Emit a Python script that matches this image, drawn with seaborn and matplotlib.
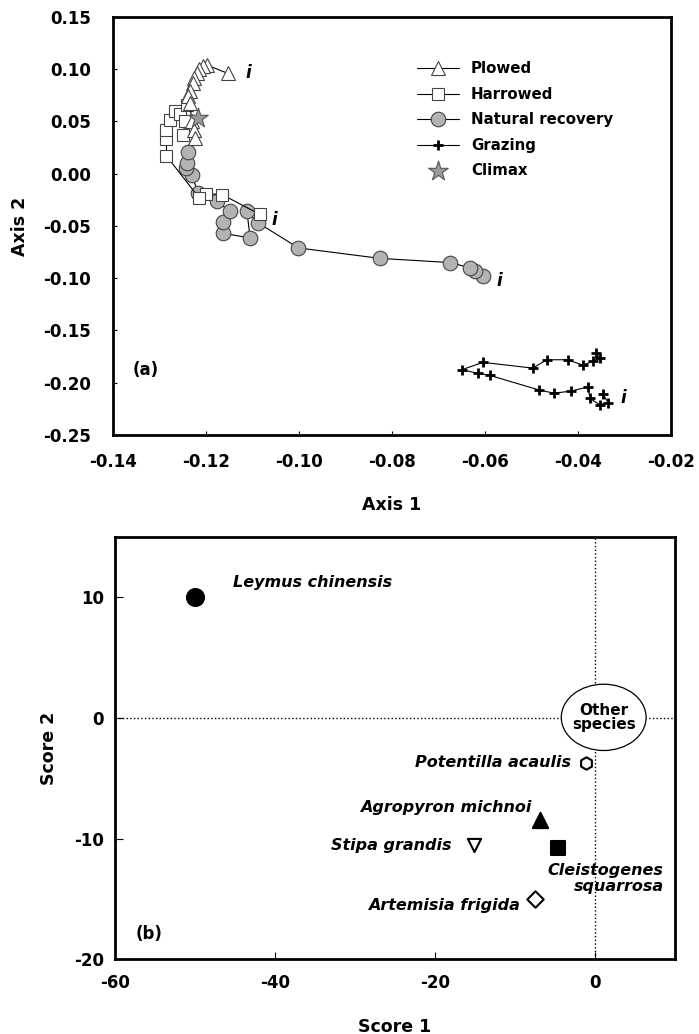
import matplotlib
matplotlib.use("Agg")
import matplotlib.pyplot as plt
import seaborn as sns
from matplotlib.patches import Ellipse

# ---- panel (a) trajectories, each starting at the "i" point ----
plowed_x = [-0.1153, -0.1198, -0.1207, -0.1215, -0.1220, -0.1225, -0.1229,
            -0.1234, -0.1238, -0.1234, -0.1231, -0.1225, -0.1224]
plowed_y = [0.096, 0.104, 0.103, 0.100, 0.096, 0.092, 0.087,
            0.079, 0.074, 0.068, 0.050, 0.042, 0.034]

harrowed_x = [-0.1084, -0.1165, -0.1200, -0.1215, -0.1285, -0.1285, -0.1285,
              -0.1277, -0.1267, -0.1256, -0.1240, -0.1245, -0.1249]
harrowed_y = [-0.039, -0.020, -0.019, -0.023, 0.017, 0.033, 0.042,
              0.051, 0.060, 0.057, 0.066, 0.050, 0.037]

natural_x = [-0.0604, -0.0621, -0.0632, -0.0675, -0.0826, -0.1001, -0.1088,
             -0.1112, -0.1105, -0.1163, -0.1163, -0.1148, -0.1177, -0.1217,
             -0.1231, -0.1243, -0.1240, -0.1238]
natural_y = [-0.098, -0.0935, -0.090, -0.085, -0.081, -0.071, -0.047,
             -0.036, -0.0615, -0.057, -0.046, -0.036, -0.0265, -0.018,
             -0.001, 0.005, 0.010, 0.021]

grazing_x = [-0.0346, -0.0335, -0.0353, -0.0374, -0.0378, -0.0415, -0.0451,
             -0.0483, -0.0589, -0.0614, -0.0650, -0.0604, -0.0497, -0.0467,
             -0.0422, -0.0390, -0.0367, -0.0353, -0.0361]
grazing_y = [-0.211, -0.219, -0.221, -0.215, -0.204, -0.208, -0.210,
             -0.207, -0.193, -0.191, -0.1876, -0.1805, -0.186, -0.178,
             -0.178, -0.183, -0.1796, -0.176, -0.172]

climax_x = [-0.1217]
climax_y = [0.053]

# ---- panel (b) species scores ----
species = ["Leymus chinensis", "Potentilla acaulis", "Agropyron michnoi",
           "Stipa grandis", "Cleistogenes\nsquarrosa", "Artemisia frigida"]
score1 = [-50, -1.1, -6.9, -15.1, -4.6, -7.5]
score2 = [10, -3.7, -8.5, -10.5, -10.8, -15.0]

sns.set_style("ticks")
plt.rcParams["font.family"] = ["DejaVu Sans"]
plt.rcParams["font.weight"] = "bold"
plt.rcParams["axes.unicode_minus"] = False
for k in ["text.color", "axes.labelcolor", "xtick.color", "ytick.color", "axes.edgecolor"]:
    plt.rcParams[k] = "black"

fig = plt.figure(figsize=(6.99, 10.34), dpi=100)
ax1 = fig.add_axes([0.1617, 0.5793, 0.798, 0.4043])
ax2 = fig.add_axes([0.1645, 0.0725, 0.801, 0.408])

line_kw = dict(sort=False, estimator=None, ax=ax1, color="black", lw=0.8)
sns.lineplot(x=grazing_x, y=grazing_y, marker="+", markersize=7,
             markeredgecolor="black", markeredgewidth=2, label="Grazing", **line_kw)
sns.lineplot(x=natural_x, y=natural_y, marker="o", markersize=10.5,
             markerfacecolor="#b3b3b3", markeredgecolor="#444444",
             markeredgewidth=0.8, label="Natural recovery", **line_kw)
sns.lineplot(x=harrowed_x, y=harrowed_y, marker="s", markersize=8.5,
             markerfacecolor="white", markeredgecolor="#444444",
             markeredgewidth=0.8, label="Harrowed", **line_kw)
sns.lineplot(x=plowed_x, y=plowed_y, marker="^", markersize=10,
             markerfacecolor="white", markeredgecolor="#444444",
             markeredgewidth=0.8, label="Plowed", **line_kw)
sns.scatterplot(x=climax_x, y=climax_y, marker="*", s=220, color="#9a9a9a",
                edgecolor="#555555", linewidth=0.8, ax=ax1, label="Climax", zorder=5)

# "i" marks the initial point of each trajectory
for tx, ty in [(-0.1116, 0.096), (-0.1059, -0.044), (-0.0575, -0.103), (-0.0308, -0.2147)]:
    ax1.text(tx, ty, "i", fontsize=12, fontstyle="italic", fontweight="bold", va="center")

ax1.text(-0.1357, -0.1876, "(a)", fontsize=12, fontweight="bold", va="center")

ax1.set_xlim(-0.14, -0.02)
ax1.set_ylim(-0.25, 0.15)
ax1.set_xticks([-0.14, -0.12, -0.10, -0.08, -0.06, -0.04, -0.02])
ax1.set_yticks([-0.25, -0.20, -0.15, -0.10, -0.05, 0.00, 0.05, 0.10, 0.15])
ax1.set_xticklabels(["-0.14", "-0.12", "-0.10", "-0.08", "-0.06", "-0.04", "-0.02"])
ax1.set_yticklabels(["-0.25", "-0.20", "-0.15", "-0.10", "-0.05", "0.00", "0.05", "0.10", "0.15"])
ax1.tick_params(axis="x", direction="in", length=3, width=0.8, pad=13, labelsize=12)
ax1.tick_params(axis="y", direction="in", length=3, width=0.8, pad=16, labelsize=12)
ax1.set_xlabel("Axis 1", fontsize=12.5, fontweight="bold", va="center")
ax1.set_ylabel("Axis 2", fontsize=12.5, fontweight="bold", va="center")
ax1.xaxis.set_label_coords(0.5, -0.167)
ax1.yaxis.set_label_coords(-0.167, 0.5)

h, l = ax1.get_legend_handles_labels()
order = ["Plowed", "Harrowed", "Natural recovery", "Grazing", "Climax"]
hd = dict(zip(l, h))
ax1.legend([hd[k] for k in order], order, loc="upper left", bbox_to_anchor=(0.545, 0.894),
           frameon=False, fontsize=10.8, handlelength=2.8, handletextpad=0.8,
           labelspacing=0.7, borderpad=0, borderaxespad=0)

# ---- panel (b) ----
ax2.axhline(0, color="black", ls=":", lw=1, zorder=1)
ax2.axvline(0, color="black", ls=":", lw=1, zorder=1)

mk = ["o", "h", "^", "v", "s", "D"]
fc = ["black", "white", "black", "white", "black", "white"]
sz = [150, 80, 120, 90, 100, 70]
for i in range(len(species)):
    sns.scatterplot(x=[score1[i]], y=[score2[i]], marker=mk[i], s=sz[i], color=fc[i],
                    edgecolor="black", linewidth=1.5, ax=ax2, zorder=4)

lab_kw = dict(fontsize=11.5, fontstyle="italic", fontweight="bold", va="center")
ax2.text(-45.25, 11.25, species[0], ha="left", **lab_kw)
ax2.text(-3.0, -3.7, species[1], ha="right", **lab_kw)
ax2.text(-7.9, -7.4, species[2], ha="right", **lab_kw)
ax2.text(-17.9, -10.6, species[3], ha="right", **lab_kw)
ax2.text(8.6, -13.3, species[4], ha="right", multialignment="right",
         linespacing=1.05, **lab_kw)
ax2.text(-9.4, -15.6, species[5], ha="right", **lab_kw)

ax2.add_patch(Ellipse((1.1, 0.05), 10.6, 5.5, facecolor="white", edgecolor="black",
                      lw=0.9, zorder=3))
ax2.text(1.1, 0.05, "Other\nspecies", ha="center", va="center", fontsize=11,
         fontweight="bold", linespacing=0.95, zorder=4)
ax2.text(-57.4, -17.9, "(b)", fontsize=12, fontweight="bold", va="center")

ax2.set_xlim(-60, 10)
ax2.set_ylim(-20, 15)
ax2.set_xticks([-60, -40, -20, 0])
ax2.set_yticks([-20, -10, 0, 10])
ax2.tick_params(axis="x", direction="in", length=5, width=0.8, pad=11, labelsize=12)
ax2.tick_params(axis="y", direction="in", length=6, width=0.8, pad=8, labelsize=12)
ax2.set_xlabel("Score 1", fontsize=12.5, fontweight="bold", va="center")
ax2.set_ylabel("Score 2", fontsize=12.5, fontweight="bold", va="center")
ax2.xaxis.set_label_coords(0.5, -0.161)
ax2.yaxis.set_label_coords(-0.118, 0.5)

for ax in (ax1, ax2):
    for sp in ax.spines.values():
        sp.set_linewidth(2)
        sp.set_color("black")

fig.savefig("out.png", dpi=100)
